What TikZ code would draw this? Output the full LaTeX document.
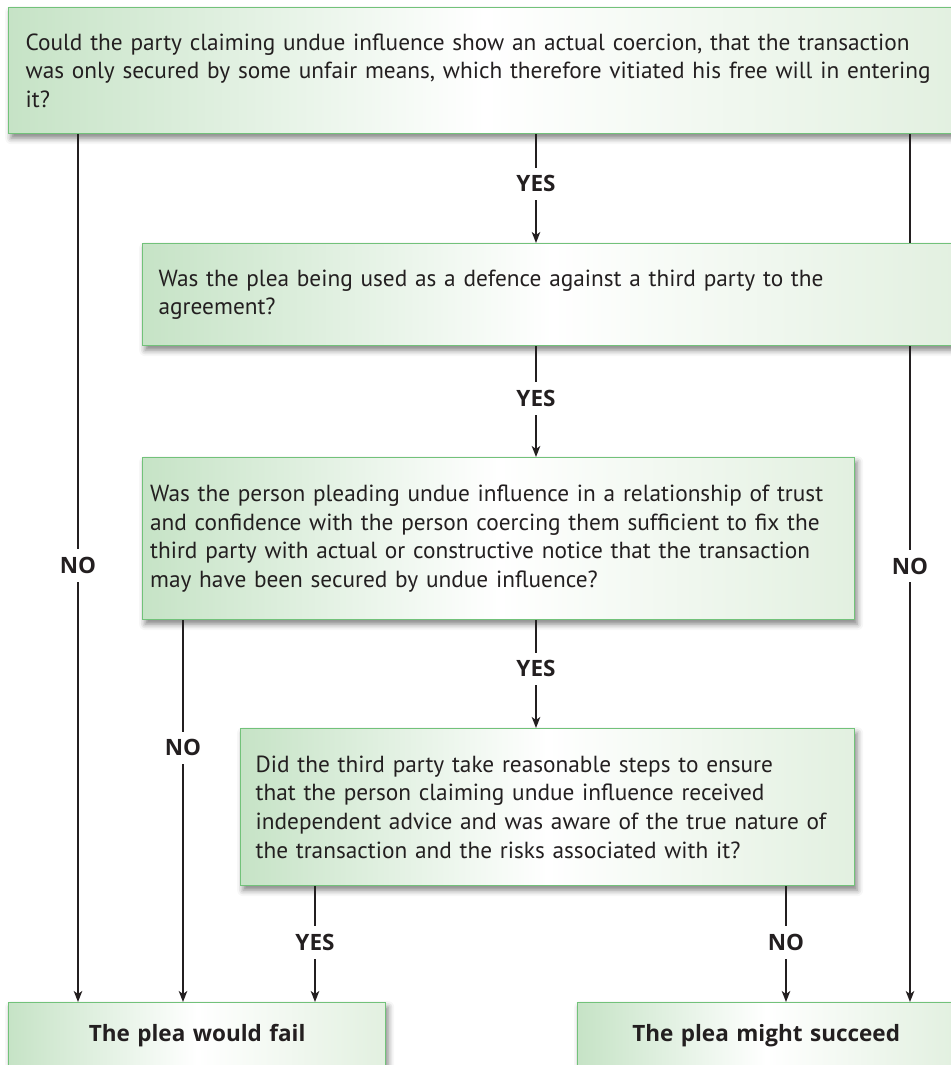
\documentclass[tikz,border=0pt]{standalone}
\usepackage{fontspec}
\setmainfont{PT Sans}
\newfontfamily\labelfont{Open Sans}
\usetikzlibrary{arrows.meta,shadows.blur}

\definecolor{boxL}{RGB}{198,227,198}
\definecolor{boxR}{RGB}{226,240,224}
\definecolor{boxedge}{RGB}{114,194,122}
\definecolor{ink}{RGB}{35,31,32}

\tikzset{
  qbox/.style={draw=boxedge, line width=1.3pt,
    left color=boxL, right color=boxR, middle color=white,
    anchor=north west, inner ysep=0pt, align=left, text=ink,
    font=\fontsize{23.3}{28.8}\selectfont,
    blur shadow={shadow xshift=2.5pt, shadow yshift=-4.5pt,
      shadow blur radius=6pt, shadow opacity=50}},
  endbox/.style={qbox, align=center, font=\labelfont\bfseries\fontsize{22.5}{28}\selectfont},
  link/.style={line width=1.6pt, draw=ink},
  arr/.style={link, -{Stealth[length=11pt,width=8.5pt,inset=3pt]}},
  lab/.style={fill=white, text=ink, font=\labelfont\bfseries\fontsize{22.5}{26}\selectfont,
    inner xsep=12pt, inner ysep=8pt},
}

\begin{document}
\begin{tikzpicture}[x=1pt, y=-1pt]
\useasboundingbox (0,0) rectangle (950,1065);

% column positions of the connectors
\coordinate (cL)  at (78,0);
\coordinate (cN)  at (183,0);
\coordinate (cY)  at (315,0);
\coordinate (cM)  at (536,0);
\coordinate (cR)  at (786,0);
\coordinate (cRR) at (910,0);

% question boxes
\node[qbox, inner xsep=17pt, text width=918pt, minimum width=952pt, minimum height=126pt]
  (q1) at (8,7)
  {Could the party claiming undue influence show an actual coercion, that the transaction\\
   was only secured by some unfair means, which therefore vitiated his free will in entering\\
   it?};

\node[qbox, inner xsep=16pt, text width=786pt, minimum width=818pt, minimum height=102pt]
  (q2) at (142,243)
  {Was the plea being used as a defence against a third party to the\\
   agreement?};

\node[qbox, inner xsep=7.5pt, text width=697pt, minimum width=712pt, minimum height=162pt]
  (q3) at (142,457)
  {Was the person pleading undue influence in a relationship of trust\\
   and confidence with the person coercing them sufficient to fix the\\
   third party with actual or constructive notice that the transaction\\
   may have been secured by undue influence?};

\node[qbox, inner xsep=15pt, text width=584pt, minimum width=614pt, minimum height=157pt]
  (q4) at (240,728)
  {Did the third party take reasonable steps to ensure\\
   that the person claiming undue influence received\\
   independent advice and was aware of the true nature of\\
   the transaction and the risks associated with it?};

% outcome boxes
\node[endbox, text width=357pt, minimum width=377pt, minimum height=66pt, inner xsep=10pt]
  (fail) at (8,1002) {The plea would fail};
\node[endbox, text width=357pt, minimum width=377pt, minimum height=66pt, inner xsep=10pt]
  (succeed) at (577,1002) {The plea might succeed};

% connectors
\draw[arr] (q1.south -| cM) -- node[lab, pos=0.455] {YES} (q2.north -| cM);
\draw[arr] (q2.south -| cM) -- node[lab, pos=0.47] {YES} (q3.north -| cM);
\draw[arr] (q3.south -| cM) -- node[lab, pos=0.45] {YES} (q4.north -| cM);

\draw[arr] (q1.south -| cL) -- node[lab, pos=0.497] {NO} (fail.north -| cL);
\draw[link] (q1.south -| cRR) -- (q2.north -| cRR);
\draw[arr] (q2.south -| cRR) -- node[lab, pos=0.335] {NO} (succeed.north -| cRR);

\draw[arr] (q3.south -| cN) -- node[lab, pos=0.334] {NO} (fail.north -| cN);
\draw[arr] (q4.south -| cY) -- node[lab, pos=0.487] {YES} (fail.north -| cY);
\draw[arr] (q4.south -| cR) -- node[lab, pos=0.487] {NO} (succeed.north -| cR);
\end{tikzpicture}
\end{document}
